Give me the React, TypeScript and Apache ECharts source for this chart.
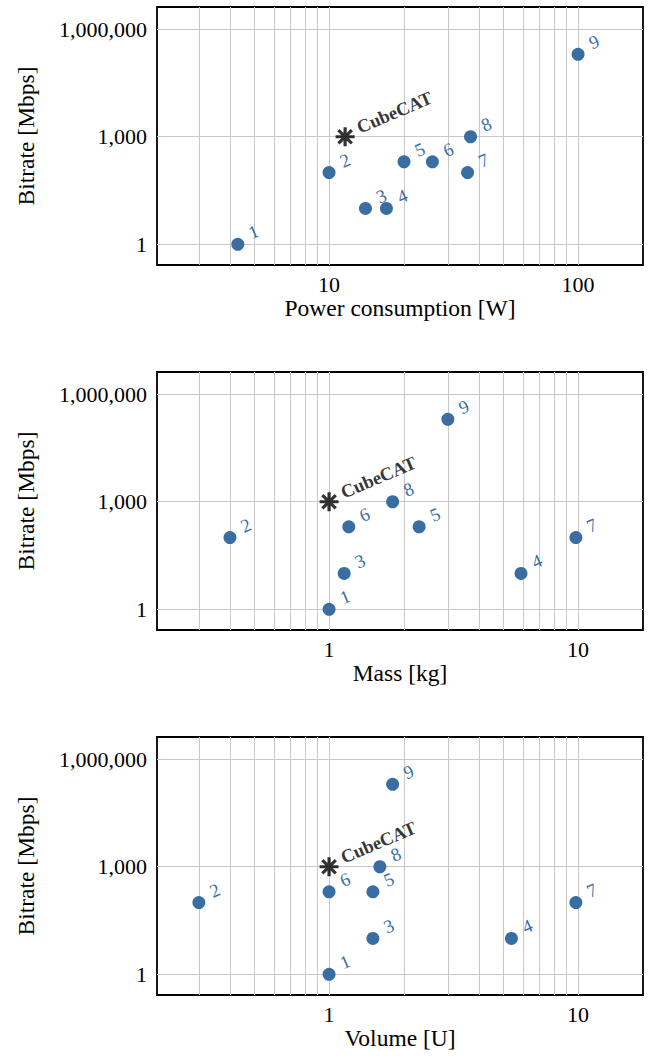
import React, { useEffect, useRef } from "react";
import * as echarts from "echarts";

const pointLabels = ["1", "2", "3", "4", "5", "6", "7", "8", "9"];
const bitrate = [1, 100, 10, 10, 200, 200, 100, 1000, 200000];
const power = [4.3, 10, 14, 17, 20, 26, 36, 37, 100];
const mass = [1, 0.4, 1.15, 5.9, 2.3, 1.2, 9.8, 1.8, 3];
const volume = [1, 0.3, 1.5, 5.4, 1.5, 1, 9.8, 1.6, 1.8];

const cubecatName = "CubeCAT";
const cubecatBitrate = 1000;
const cubecatPower = 11.6;
const cubecatMass = 1;
const cubecatVolume = 1;

const xTitles = ["Power consumption [W]", "Mass [kg]", "Volume [U]"];
const yTitle = "Bitrate [Mbps]";
const xRanges = [
  [2.037, 182.3],
  [0.2037, 18.23],
  [0.2037, 18.23],
];
const yRange = [0.264, 4170000];
const minorGrid = [
  [3, 4, 5, 6, 7, 8, 9, 20, 30, 40, 50, 60, 70, 80, 90],
  [0.3, 0.4, 0.5, 0.6, 0.7, 0.8, 0.9, 2, 3, 4, 5, 6, 7, 8, 9],
  [0.3, 0.4, 0.5, 0.6, 0.7, 0.8, 0.9, 2, 3, 4, 5, 6, 7, 8, 9],
];

const FONT = "'Liberation Serif', 'Times New Roman', serif";
const BLUE = "#3a6ea3";
const GRID = "#c8c8c8";
const STAR =
  "path://M0,-10L0,10M-10,0L10,0M-7.07,-7.07L7.07,7.07M-7.07,7.07L7.07,-7.07";

export default function App() {
  const ref = useRef<HTMLDivElement>(null);
  useEffect(() => {
    if (!ref.current) return;
    const chart = echarts.init(ref.current, null, { renderer: "svg" });
    const xs = [power, mass, volume];
    const cx = [cubecatPower, cubecatMass, cubecatVolume];
    const tops = [7, 372, 737];
    const grid = tops.map((t) => ({
      left: 157,
      top: t,
      width: 486,
      height: 258,
      show: true,
      borderColor: "#000",
      borderWidth: 1.8,
      backgroundColor: "transparent",
    }));
    const xAxis = tops.map((_, i) => ({
      type: "log",
      logBase: 10,
      gridIndex: i,
      min: xRanges[i][0],
      max: xRanges[i][1],
      name: xTitles[i],
      nameLocation: "middle",
      nameGap: 31,
      nameTextStyle: { fontFamily: FONT, fontSize: 23.5, color: "#000" },
      axisLine: { show: false },
      axisTick: { show: false },
      axisLabel: {
        fontFamily: FONT,
        fontSize: 22,
        color: "#000",
        margin: 8,
        showMinLabel: false,
        showMaxLabel: false,
        formatter: (v: number) => String(Math.round(v * 1000) / 1000),
      },
      splitLine: {
        show: true,
        showMinLine: false,
        showMaxLine: false,
        lineStyle: { color: GRID, width: 1 },
      },
    }));
    const yAxis = tops.map((_, i) => ({
      type: "log",
      logBase: 1000,
      gridIndex: i,
      min: yRange[0],
      max: yRange[1],
      name: yTitle,
      nameLocation: "middle",
      nameGap: 119,
      nameTextStyle: { fontFamily: FONT, fontSize: 23.5, color: "#000" },
      axisLine: { show: false },
      axisTick: { show: false },
      axisLabel: {
        fontFamily: FONT,
        fontSize: 22,
        color: "#000",
        margin: 10,
        showMinLabel: false,
        showMaxLabel: false,
        formatter: (v: number) => Math.round(v).toLocaleString("en-US"),
      },
      splitLine: {
        show: true,
        showMinLine: false,
        showMaxLine: false,
        lineStyle: { color: GRID, width: 1 },
      },
    }));
    const series: any[] = [];
    tops.forEach((_, i) => {
      series.push({
        type: "scatter",
        xAxisIndex: i,
        yAxisIndex: i,
        symbol: "circle",
        symbolSize: 13,
        z: 3,
        itemStyle: { color: BLUE, opacity: 1 },
        data: xs[i].map((x, k) => ({ name: pointLabels[k], value: [x, bitrate[k]] })),
        label: {
          show: true,
          position: "inside",
          offset: [19.4, -4.8],
          rotate: 23,
          formatter: "{b}",
          color: BLUE,
          fontFamily: FONT,
          fontSize: 18.5,
          align: "center",
          verticalAlign: "middle",
        },
        markLine: {
          silent: true,
          z: 1,
          symbol: ["none", "none"],
          label: { show: false },
          lineStyle: { color: GRID, width: 1, type: "solid" },
          data: minorGrid[i].map((v) => ({ xAxis: v })),
        },
      });
      series.push({
        type: "scatter",
        xAxisIndex: i,
        yAxisIndex: i,
        symbol: STAR,
        symbolSize: 19,
        z: 4,
        itemStyle: { color: "#000", borderColor: "#000", borderWidth: 3.2 },
        data: [{ name: cubecatName, value: [cx[i], cubecatBitrate] }],
        label: {
          show: true,
          position: "inside",
          offset: [15, -3],
          rotate: 23,
          formatter: "{b}",
          color: "#000",
          fontFamily: FONT,
          fontWeight: "bold",
          fontSize: 18.5,
          align: "left",
          verticalAlign: "middle",
        },
      });
    });
    chart.setOption({
      animation: false,
      backgroundColor: "#fff",
      grid,
      xAxis,
      yAxis,
      series,
    });
    return () => chart.dispose();
  }, []);
  return (
    <div
      ref={ref}
      style={{ position: "fixed", left: 0, top: 0, width: 653, height: 1062 }}
    />
  );
}
